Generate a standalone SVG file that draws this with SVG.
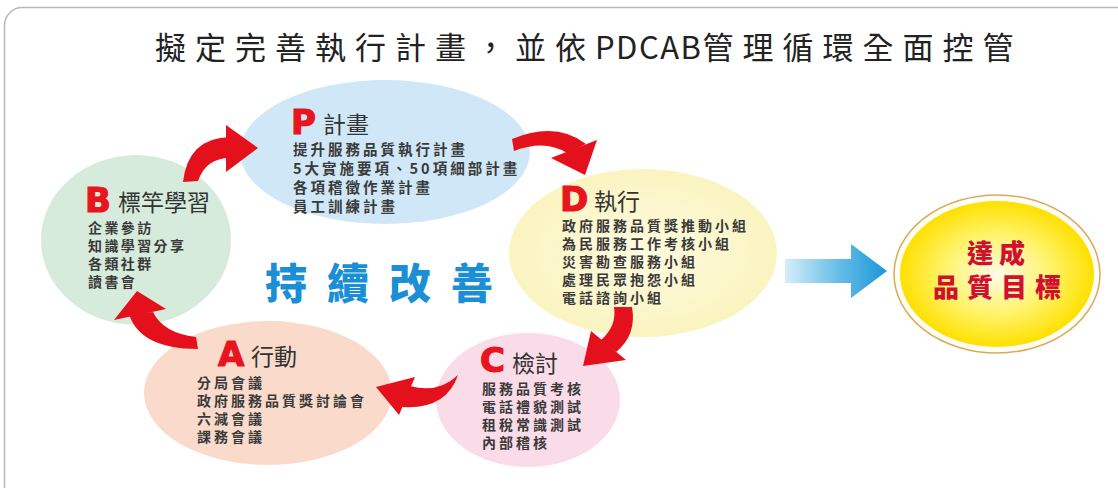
<svg xmlns="http://www.w3.org/2000/svg" width="1118" height="488" viewBox="0 0 1118 488">
<defs>
<style>
.title{font-family:"Noto Sans CJK TC","Noto Sans CJK SC",sans-serif;font-size:31px;fill:#222;letter-spacing:9px;}
.lat{letter-spacing:1.5px;}
.big{font-family:"DejaVu Sans","Liberation Sans",sans-serif;font-weight:bold;font-size:34px;fill:#e8141e;stroke:#e8141e;stroke-width:1.2px;}
.head{font-family:"Noto Sans CJK TC",sans-serif;font-size:23px;fill:#333;}
.item{font-family:"Noto Sans CJK TC",sans-serif;font-weight:bold;font-size:14px;fill:#3a3a3a;letter-spacing:3px;}
.itemP{font-family:"Noto Sans CJK TC",sans-serif;font-weight:bold;font-size:14.5px;fill:#3a3a3a;letter-spacing:3px;}
.itemB{letter-spacing:2.4px;}
.redarrow{fill:#e4101c;}
.goal{font-family:"Noto Sans CJK TC",serif;font-weight:900;font-size:26px;fill:#cf1030;}
.kaizen{font-family:"Noto Sans CJK TC",sans-serif;font-weight:900;font-size:42px;fill:#1b8fd6;}
</style>
<radialGradient id="gy" cx="0.5" cy="0.5" r="0.5">
<stop offset="0" stop-color="#fffbe8"/>
<stop offset="0.55" stop-color="#fff36a"/>
<stop offset="1" stop-color="#ffe000"/>
</radialGradient>
<linearGradient id="gb" x1="0" y1="0" x2="1" y2="0">
<stop offset="0" stop-color="#d6eef9"/>
<stop offset="0.5" stop-color="#6bbfe8"/>
<stop offset="1" stop-color="#1a96d8"/>
</linearGradient>
<radialGradient id="gd" cx="0.5" cy="0.5" r="0.5">
<stop offset="0" stop-color="#fffbe0"/>
<stop offset="1" stop-color="#faf4c0"/>
</radialGradient>
</defs>
<rect x="0" y="0" width="1118" height="488" fill="#ffffff"/>
<rect x="4.5" y="7.5" width="1140" height="510" rx="18" fill="#ffffff" stroke="#b8b8b8" stroke-width="1.5"/>
<text class="title" x="155" y="59">擬定完善執行計畫，並依<tspan class="lat">PDCAB</tspan>管理循環全面控管</text>

<g id="node-P">
<ellipse cx="385" cy="152" rx="145" ry="72" fill="#cfe7f6"/>
<text class="big" x="291" y="134">P</text>
<text class="head" x="323" y="133">計畫</text>
<text class="itemP" x="293" y="155">提升服務品質執行計畫</text>
<text class="itemP" x="293" y="174">5大實施要項、50項細部計畫</text>
<text class="itemP" x="293" y="193">各項稽徵作業計畫</text>
<text class="itemP" x="293" y="212">員工訓練計畫</text>
</g>

<g id="node-B">
<ellipse cx="136" cy="240" rx="95" ry="85" fill="#d6ebdb"/>
<text class="big" x="85" y="212">B</text>
<text class="head" x="118" y="211">標竿學習</text>
<text class="item itemB" x="88" y="233">企業參訪</text>
<text class="item itemB" x="88" y="251">知識學習分享</text>
<text class="item itemB" x="88" y="269">各類社群</text>
<text class="item itemB" x="88" y="287">讀書會</text>
</g>

<g id="node-D">
<ellipse cx="643" cy="253" rx="134" ry="84" fill="url(#gd)"/>
<text class="big" x="560" y="211">D</text>
<text class="head" x="594" y="210">執行</text>
<text class="item" x="562" y="231">政府服務品質獎推動小組</text>
<text class="item" x="562" y="249">為民服務工作考核小組</text>
<text class="item" x="562" y="267">災害勘查服務小組</text>
<text class="item" x="562" y="285">處理民眾抱怨小組</text>
<text class="item" x="562" y="303">電話諮詢小組</text>
</g>

<g id="node-C">
<ellipse cx="528" cy="400" rx="92" ry="67" fill="#fadce8"/>
<text class="big" x="480" y="372">C</text>
<text class="head" x="512" y="372">檢討</text>
<text class="item" x="482" y="394">服務品質考核</text>
<text class="item" x="482" y="412">電話禮貌測試</text>
<text class="item" x="482" y="430">租稅常識測試</text>
<text class="item" x="482" y="448">內部稽核</text>
</g>

<g id="node-A">
<ellipse cx="268" cy="393" rx="124" ry="72" fill="#f9dacb"/>
<text class="big" x="218" y="366">A</text>
<text class="head" x="251" y="365">行動</text>
<text class="item" x="197" y="388">分局會議</text>
<text class="item" x="197" y="406">政府服務品質獎討論會</text>
<text class="item" x="197" y="424">六減會議</text>
<text class="item" x="197" y="442">課務會議</text>
</g>

<g id="node-goal">
<ellipse cx="997" cy="274" rx="103" ry="79" fill="#fffef5" stroke="#d9aa5a" stroke-width="1.5"/>
<ellipse cx="997" cy="274" rx="97" ry="73" fill="url(#gy)"/>
<text class="goal" x="999" y="263" text-anchor="middle" letter-spacing="6">達成</text>
<text class="goal" x="1001" y="297" text-anchor="middle" letter-spacing="8">品質目標</text>
</g>

<text class="kaizen" x="265" y="299" textLength="228" lengthAdjust="spacing">持續改善</text>

<g id="connectors">
<path class="redarrow" d="M183 182 Q188 138 230 137 L230 158 Q206 158 198 181 Z"/>
<polygon class="redarrow" points="226,125 258,148 226,172"/>
<path class="redarrow" d="M512 139 Q556 121 586 144 L567 153 Q545 139 514 151 Z"/>
<polygon class="redarrow" points="551,158 597,140 585,175"/>
<path class="redarrow" d="M632 307 Q637 335 616 352 L601 340 Q617 326 614 307 Z"/>
<polygon class="redarrow" points="591,331 626,360 583,366"/>
<path class="redarrow" d="M410 386 Q438 394 458 375 Q446 410 402 407 Z"/>
<polygon class="redarrow" points="415,377 399,415 376,387"/>
<path class="redarrow" d="M129 314 Q140 349 198 349 L196 337 Q163 333 153 312 Z"/>
<polygon class="redarrow" points="114,320 166,309 137,291"/>
<polygon fill="url(#gb)" points="785,259 851,259 851,244 887,271 851,298 851,283 785,283"/>
</g>
</svg>
